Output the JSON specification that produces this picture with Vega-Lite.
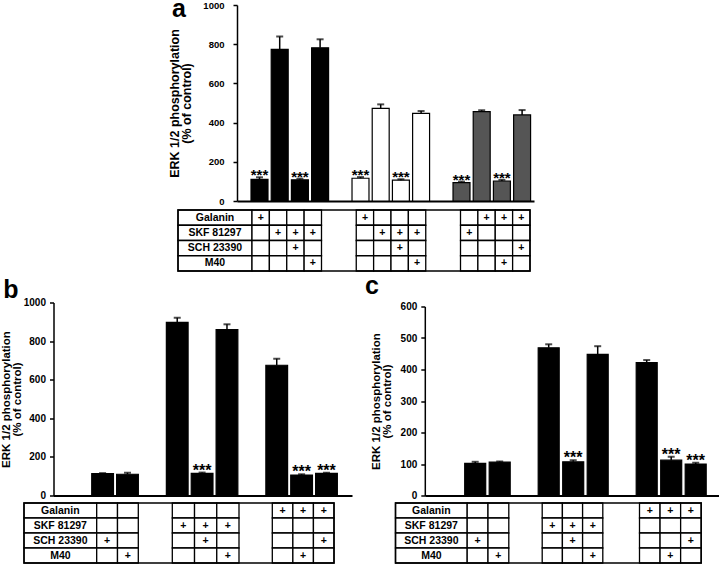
{
  "$schema": "https://vega.github.io/schema/vega-lite/v6.json",
  "padding": {"left": 0, "top": -3, "right": 0, "bottom": 0},
  "background": "white",
  "config": {
    "font": "Liberation Sans",
    "view": {"stroke": null},
    "axis": {"grid": false, "domainColor": "black", "tickColor": "black", "labelColor": "black", "titleColor": "black", "labelFont": "Liberation Sans", "titleFont": "Liberation Sans", "labelFontWeight": "bold", "titleFontWeight": "bold", "labelOverlap": false},
    "title": {"font": "Liberation Sans", "fontWeight": "bold", "color": "black"}
  },
  "datasets": {
    "barsA": [
      {"k": "1", "grp": "black", "val": 110, "hi": 121, "sig": "***"},
      {"k": "2", "grp": "black", "val": 774, "hi": 839, "sig": ""},
      {"k": "3", "grp": "black", "val": 108, "hi": 114, "sig": "***"},
      {"k": "4", "grp": "black", "val": 782, "hi": 825, "sig": ""},
      {"k": "5", "grp": "white", "val": 116, "hi": 122, "sig": "***"},
      {"k": "6", "grp": "white", "val": 473, "hi": 493, "sig": ""},
      {"k": "7", "grp": "white", "val": 106, "hi": 111, "sig": "***"},
      {"k": "8", "grp": "white", "val": 447, "hi": 459, "sig": ""},
      {"k": "9", "grp": "gray", "val": 94, "hi": 99, "sig": "***"},
      {"k": "10", "grp": "gray", "val": 456, "hi": 463, "sig": ""},
      {"k": "11", "grp": "gray", "val": 102, "hi": 108, "sig": "***"},
      {"k": "12", "grp": "gray", "val": 439, "hi": 464, "sig": ""}
    ],
    "barsB": [
      {"k": "1", "val": 113, "hi": 116, "sig": ""},
      {"k": "2", "val": 110, "hi": 118, "sig": ""},
      {"k": "3", "val": 897, "hi": 921, "sig": ""},
      {"k": "4", "val": 115, "hi": 119, "sig": "***"},
      {"k": "5", "val": 859, "hi": 887, "sig": ""},
      {"k": "6", "val": 675, "hi": 709, "sig": ""},
      {"k": "7", "val": 106, "hi": 110, "sig": "***"},
      {"k": "8", "val": 115, "hi": 118, "sig": "***"}
    ],
    "barsC": [
      {"k": "1", "val": 102, "hi": 107, "sig": ""},
      {"k": "2", "val": 106, "hi": 108, "sig": ""},
      {"k": "3", "val": 469, "hi": 480, "sig": ""},
      {"k": "4", "val": 107, "hi": 112, "sig": "***"},
      {"k": "5", "val": 448, "hi": 474, "sig": ""},
      {"k": "6", "val": 422, "hi": 430, "sig": ""},
      {"k": "7", "val": 112, "hi": 123, "sig": "***"},
      {"k": "8", "val": 100, "hi": 104, "sig": "***"}
    ],
    "tA": [
      {"c": "lab", "r": "Galanin", "t": "Galanin"},
      {"c": "lab", "r": "SKF 81297", "t": "SKF 81297"},
      {"c": "lab", "r": "SCH 23390", "t": "SCH 23390"},
      {"c": "lab", "r": "M40", "t": "M40"},
      {"c": "1", "r": "Galanin", "t": "+"}, {"c": "2", "r": "Galanin", "t": ""}, {"c": "3", "r": "Galanin", "t": ""}, {"c": "4", "r": "Galanin", "t": ""},
      {"c": "5", "r": "Galanin", "t": "+"}, {"c": "6", "r": "Galanin", "t": ""}, {"c": "7", "r": "Galanin", "t": ""}, {"c": "8", "r": "Galanin", "t": ""},
      {"c": "9", "r": "Galanin", "t": ""}, {"c": "10", "r": "Galanin", "t": "+"}, {"c": "11", "r": "Galanin", "t": "+"}, {"c": "12", "r": "Galanin", "t": "+"},
      {"c": "1", "r": "SKF 81297", "t": ""}, {"c": "2", "r": "SKF 81297", "t": "+"}, {"c": "3", "r": "SKF 81297", "t": "+"}, {"c": "4", "r": "SKF 81297", "t": "+"},
      {"c": "5", "r": "SKF 81297", "t": ""}, {"c": "6", "r": "SKF 81297", "t": "+"}, {"c": "7", "r": "SKF 81297", "t": "+"}, {"c": "8", "r": "SKF 81297", "t": "+"},
      {"c": "9", "r": "SKF 81297", "t": "+"}, {"c": "10", "r": "SKF 81297", "t": ""}, {"c": "11", "r": "SKF 81297", "t": ""}, {"c": "12", "r": "SKF 81297", "t": ""},
      {"c": "1", "r": "SCH 23390", "t": ""}, {"c": "2", "r": "SCH 23390", "t": ""}, {"c": "3", "r": "SCH 23390", "t": "+"}, {"c": "4", "r": "SCH 23390", "t": ""},
      {"c": "5", "r": "SCH 23390", "t": ""}, {"c": "6", "r": "SCH 23390", "t": ""}, {"c": "7", "r": "SCH 23390", "t": "+"}, {"c": "8", "r": "SCH 23390", "t": ""},
      {"c": "9", "r": "SCH 23390", "t": ""}, {"c": "10", "r": "SCH 23390", "t": ""}, {"c": "11", "r": "SCH 23390", "t": ""}, {"c": "12", "r": "SCH 23390", "t": "+"},
      {"c": "1", "r": "M40", "t": ""}, {"c": "2", "r": "M40", "t": ""}, {"c": "3", "r": "M40", "t": ""}, {"c": "4", "r": "M40", "t": "+"},
      {"c": "5", "r": "M40", "t": ""}, {"c": "6", "r": "M40", "t": ""}, {"c": "7", "r": "M40", "t": ""}, {"c": "8", "r": "M40", "t": "+"},
      {"c": "9", "r": "M40", "t": ""}, {"c": "10", "r": "M40", "t": ""}, {"c": "11", "r": "M40", "t": "+"}, {"c": "12", "r": "M40", "t": ""}
    ],
    "tB": [
      {"c": "lab", "g": 0, "r": "Galanin", "t": "Galanin"},
      {"c": "lab", "g": 0, "r": "SKF 81297", "t": "SKF 81297"},
      {"c": "lab", "g": 0, "r": "SCH 23390", "t": "SCH 23390"},
      {"c": "lab", "g": 0, "r": "M40", "t": "M40"},
      {"c": "1", "g": 1, "r": "Galanin", "t": ""}, {"c": "2", "g": 1, "r": "Galanin", "t": ""},
      {"c": "3", "g": 2, "r": "Galanin", "t": ""}, {"c": "4", "g": 2, "r": "Galanin", "t": ""}, {"c": "5", "g": 2, "r": "Galanin", "t": ""},
      {"c": "6", "g": 3, "r": "Galanin", "t": "+"}, {"c": "7", "g": 3, "r": "Galanin", "t": "+"}, {"c": "8", "g": 3, "r": "Galanin", "t": "+"},
      {"c": "1", "g": 1, "r": "SKF 81297", "t": ""}, {"c": "2", "g": 1, "r": "SKF 81297", "t": ""},
      {"c": "3", "g": 2, "r": "SKF 81297", "t": "+"}, {"c": "4", "g": 2, "r": "SKF 81297", "t": "+"}, {"c": "5", "g": 2, "r": "SKF 81297", "t": "+"},
      {"c": "6", "g": 3, "r": "SKF 81297", "t": ""}, {"c": "7", "g": 3, "r": "SKF 81297", "t": ""}, {"c": "8", "g": 3, "r": "SKF 81297", "t": ""},
      {"c": "1", "g": 1, "r": "SCH 23390", "t": "+"}, {"c": "2", "g": 1, "r": "SCH 23390", "t": ""},
      {"c": "3", "g": 2, "r": "SCH 23390", "t": ""}, {"c": "4", "g": 2, "r": "SCH 23390", "t": "+"}, {"c": "5", "g": 2, "r": "SCH 23390", "t": ""},
      {"c": "6", "g": 3, "r": "SCH 23390", "t": ""}, {"c": "7", "g": 3, "r": "SCH 23390", "t": ""}, {"c": "8", "g": 3, "r": "SCH 23390", "t": "+"},
      {"c": "1", "g": 1, "r": "M40", "t": ""}, {"c": "2", "g": 1, "r": "M40", "t": "+"},
      {"c": "3", "g": 2, "r": "M40", "t": ""}, {"c": "4", "g": 2, "r": "M40", "t": ""}, {"c": "5", "g": 2, "r": "M40", "t": "+"},
      {"c": "6", "g": 3, "r": "M40", "t": ""}, {"c": "7", "g": 3, "r": "M40", "t": "+"}, {"c": "8", "g": 3, "r": "M40", "t": ""}
    ],
    "frame": [{"f": "t"}]
  },
  "spacing": 1.5,
  "vconcat": [
    {
      "spacing": 3,
      "vconcat": [
        {
          "width": 510, "height": 196,
          "title": {"text": "a", "anchor": "start", "fontSize": 25, "dx": 148, "dy": 22, "offset": 0},
          "data": {"name": "barsA"},
          "encoding": {
            "x": {"field": "k", "type": "nominal", "scale": {"domain": ["1","2","3","4","g1","5","6","7","8","g2","9","10","11","12"], "range": [213, 510], "paddingInner": 0, "paddingOuter": 0.3515, "align": 0.8732}, "axis": {"labels": false, "ticks": false, "title": null, "domainWidth": 2}}
          },
          "layer": [
            {"mark": {"type": "bar", "width": {"band": 0.84}, "stroke": "black", "strokeWidth": 1.2},
             "encoding": {
               "y": {"field": "val", "type": "quantitative", "scale": {"domain": [0, 1000], "nice": false},
                     "axis": {"values": [0, 200, 400, 600, 800, 1000], "format": "d", "tickCount": 20, "labelOverlap": false, "offset": -213, "domainWidth": 1.5, "tickWidth": 1.5, "tickSize": 4, "labelFontSize": 9.5, "labelPadding": 9, "title": ["ERK 1/2 phosphorylation", "(% of control)"], "titleFontSize": 12.5, "titleLineHeight": 12, "titlePadding": 9}},
               "fill": {"field": "grp", "type": "nominal", "scale": {"domain": ["black", "white", "gray"], "range": ["#000000", "#ffffff", "#555555"]}, "legend": null}}},
            {"mark": {"type": "rule", "strokeWidth": 1.5, "color": "black"}, "encoding": {"y": {"field": "val", "type": "quantitative"}, "y2": {"field": "hi"}}},
            {"mark": {"type": "tick", "orient": "horizontal", "size": 7, "thickness": 2, "color": "black"}, "encoding": {"y": {"field": "hi", "type": "quantitative"}}},
            {"mark": {"type": "text", "fontSize": 15, "fontWeight": "bold", "baseline": "alphabetic", "dy": 3, "color": "black"}, "encoding": {"y": {"field": "hi", "type": "quantitative"}, "text": {"field": "sig"}}}
          ]
        },
        {
          "width": 510, "height": 61,
          "encoding": {"y": {"field": "r", "type": "nominal", "scale": {"domain": ["Galanin", "SKF 81297", "SCH 23390", "M40"], "paddingInner": 0, "paddingOuter": 0}, "axis": null}},
          "layer": [
            {"data": {"name": "tA"}, "transform": [{"filter": "datum.c == 'lab'"}],
             "encoding": {"x": {"field": "c", "type": "nominal", "scale": {"domain": ["lab"], "range": [154, 228], "paddingInner": 0, "paddingOuter": 0}, "axis": null}},
             "layer": [
               {"mark": {"type": "rect", "fill": "white", "stroke": "black", "strokeWidth": 1.3}},
               {"mark": {"type": "text", "fontSize": 10.5, "fontWeight": "bold", "color": "black"}, "encoding": {"text": {"field": "t"}}}
             ]},
            {"data": {"name": "tA"}, "transform": [{"filter": "datum.c != 'lab'"}],
             "encoding": {"x": {"field": "c", "type": "nominal", "scale": {"domain": ["1","2","3","4","ga","gb","5","6","7","8","gc","gd","9","10","11","12"], "range": [228, 506], "paddingInner": 0, "paddingOuter": 0}, "axis": null}},
             "layer": [
               {"mark": {"type": "rect", "fill": "white", "stroke": "black", "strokeWidth": 1.3}},
               {"mark": {"type": "text", "fontSize": 10.5, "fontWeight": "bold", "color": "black"}, "encoding": {"text": {"field": "t"}}}
             ]},
            {"data": {"name": "frame"}, "mark": {"type": "rect", "fillOpacity": 0, "stroke": "black", "strokeWidth": 1.5},
             "encoding": {"x": {"field": "f", "type": "nominal", "scale": {"domain": ["t"], "range": [154, 506], "paddingInner": 0, "paddingOuter": 0}, "axis": null}, "y": null}}
          ],
          "resolve": {"scale": {"x": "independent"}}
        }
      ]
    },
    {
      "spacing": 12.5,
      "hconcat": [
        {
          "spacing": 1.5,
          "vconcat": [
            {
              "width": 328, "height": 193,
              "title": {"text": "b", "anchor": "start", "fontSize": 25, "dx": 3, "dy": 5, "offset": 0},
              "data": {"name": "barsB"},
              "encoding": {
                "x": {"field": "k", "type": "nominal", "scale": {"domain": ["1","2","g1","3","4","5","g2","6","7","8"], "range": [29.5, 328], "paddingInner": 0, "paddingOuter": 1.067, "align": 0.737}, "axis": {"labels": false, "ticks": false, "title": null, "domainWidth": 2}}
              },
              "layer": [
                {"mark": {"type": "bar", "width": {"band": 0.874}, "fill": "black", "stroke": "black", "strokeWidth": 1.2},
                 "encoding": {
                   "y": {"field": "val", "type": "quantitative", "scale": {"domain": [0, 1000], "nice": false},
                         "axis": {"values": [0, 200, 400, 600, 800, 1000], "format": "d", "tickCount": 20, "labelOverlap": false, "offset": -29.5, "domainWidth": 1.5, "tickWidth": 1.5, "tickSize": 4, "labelFontSize": 10, "labelPadding": 4, "title": ["ERK 1/2 phosphorylation", "(% of control)"], "titleFontSize": 11.5, "titleLineHeight": 11, "titlePadding": 1}}}},
                {"mark": {"type": "rule", "strokeWidth": 1.5, "color": "black"}, "encoding": {"y": {"field": "val", "type": "quantitative"}, "y2": {"field": "hi"}}},
                {"mark": {"type": "tick", "orient": "horizontal", "size": 7, "thickness": 2, "color": "black"}, "encoding": {"y": {"field": "hi", "type": "quantitative"}}},
                {"mark": {"type": "text", "fontSize": 16, "fontWeight": "bold", "baseline": "alphabetic", "dy": 3, "color": "black"}, "encoding": {"y": {"field": "hi", "type": "quantitative"}, "text": {"field": "sig"}}}
              ]
            },
            {
              "width": 310, "height": 60,
              "data": {"name": "tB"},
              "encoding": {"y": {"field": "r", "type": "nominal", "scale": {"domain": ["Galanin", "SKF 81297", "SCH 23390", "M40"], "paddingInner": 0, "paddingOuter": 0}, "axis": null}},
              "layer": [
                {"transform": [{"filter": "datum.g == 0"}],
                 "encoding": {"x": {"field": "c", "type": "nominal", "scale": {"domain": ["lab"], "range": [0, 72.7], "paddingInner": 0, "paddingOuter": 0}, "axis": null}},
                 "layer": [
                   {"mark": {"type": "rect", "fill": "white", "stroke": "black", "strokeWidth": 1.3}},
                   {"mark": {"type": "text", "fontSize": 10.5, "fontWeight": "bold", "color": "black"}, "encoding": {"text": {"field": "t"}}}
                 ]},
                {"transform": [{"filter": "datum.g == 1"}],
                 "encoding": {"x": {"field": "c", "type": "nominal", "scale": {"domain": ["1","2"], "range": [72.7, 114.3], "paddingInner": 0, "paddingOuter": 0}, "axis": null}},
                 "layer": [
                   {"mark": {"type": "rect", "fill": "white", "stroke": "black", "strokeWidth": 1.3}},
                   {"mark": {"type": "text", "fontSize": 10.5, "fontWeight": "bold", "color": "black"}, "encoding": {"text": {"field": "t"}}}
                 ]},
                {"transform": [{"filter": "datum.g == 2"}],
                 "encoding": {"x": {"field": "c", "type": "nominal", "scale": {"domain": ["3","4","5"], "range": [148.3, 215], "paddingInner": 0, "paddingOuter": 0}, "axis": null}},
                 "layer": [
                   {"mark": {"type": "rect", "fill": "white", "stroke": "black", "strokeWidth": 1.3}},
                   {"mark": {"type": "text", "fontSize": 10.5, "fontWeight": "bold", "color": "black"}, "encoding": {"text": {"field": "t"}}}
                 ]},
                {"transform": [{"filter": "datum.g == 3"}],
                 "encoding": {"x": {"field": "c", "type": "nominal", "scale": {"domain": ["6","7","8"], "range": [248.3, 310], "paddingInner": 0, "paddingOuter": 0}, "axis": null}},
                 "layer": [
                   {"mark": {"type": "rect", "fill": "white", "stroke": "black", "strokeWidth": 1.3}},
                   {"mark": {"type": "text", "fontSize": 10.5, "fontWeight": "bold", "color": "black"}, "encoding": {"text": {"field": "t"}}}
                 ]},
                {"data": {"name": "frame"}, "mark": {"type": "rect", "fillOpacity": 0, "stroke": "black", "strokeWidth": 1.5},
                 "encoding": {"x": {"field": "f", "type": "nominal", "scale": {"domain": ["t"], "range": [0, 310], "paddingInner": 0, "paddingOuter": 0}, "axis": null}, "y": null}}
              ],
              "resolve": {"scale": {"x": "independent"}}
            }
          ]
        },
        {
          "spacing": 1.5,
          "vconcat": [
            {
              "width": 323, "height": 193,
              "title": {"text": "c", "anchor": "start", "fontSize": 25, "dx": -5, "dy": -2.5, "offset": 0},
              "data": {"name": "barsC"},
              "encoding": {
                "x": {"field": "k", "type": "nominal", "scale": {"domain": ["1","2","g1","3","4","5","g2","6","7","8"], "range": [29.3, 323], "paddingInner": 0, "paddingOuter": 0.9939, "align": 0.7834}, "axis": {"labels": false, "ticks": false, "title": null, "domainWidth": 2}}
              },
              "layer": [
                {"mark": {"type": "bar", "width": {"band": 0.857}, "fill": "black", "stroke": "black", "strokeWidth": 1.2},
                 "encoding": {
                   "y": {"field": "val", "type": "quantitative", "scale": {"domain": [0, 600], "nice": false, "range": [193, 4]},
                         "axis": {"values": [0, 100, 200, 300, 400, 500, 600], "format": "d", "tickCount": 20, "labelOverlap": false, "offset": -29.3, "domainWidth": 1.5, "tickWidth": 1.5, "tickSize": 4, "labelFontSize": 10, "labelPadding": 4, "title": ["ERK 1/2 phosphorylation", "(% of control)"], "titleFontSize": 11.5, "titleLineHeight": 11, "titlePadding": 8}}}},
                {"mark": {"type": "rule", "strokeWidth": 1.5, "color": "black"}, "encoding": {"y": {"field": "val", "type": "quantitative"}, "y2": {"field": "hi"}}},
                {"mark": {"type": "tick", "orient": "horizontal", "size": 7, "thickness": 2, "color": "black"}, "encoding": {"y": {"field": "hi", "type": "quantitative"}}},
                {"mark": {"type": "text", "fontSize": 16, "fontWeight": "bold", "baseline": "alphabetic", "dy": 3, "color": "black"}, "encoding": {"y": {"field": "hi", "type": "quantitative"}, "text": {"field": "sig"}}}
              ]
            },
            {
              "width": 306, "height": 60,
              "data": {"name": "tB"},
              "encoding": {"y": {"field": "r", "type": "nominal", "scale": {"domain": ["Galanin", "SKF 81297", "SCH 23390", "M40"], "paddingInner": 0, "paddingOuter": 0}, "axis": null}},
              "layer": [
                {"transform": [{"filter": "datum.g == 0"}],
                 "encoding": {"x": {"field": "c", "type": "nominal", "scale": {"domain": ["lab"], "range": [0, 71.7], "paddingInner": 0, "paddingOuter": 0}, "axis": null}},
                 "layer": [
                   {"mark": {"type": "rect", "fill": "white", "stroke": "black", "strokeWidth": 1.3}},
                   {"mark": {"type": "text", "fontSize": 10.5, "fontWeight": "bold", "color": "black"}, "encoding": {"text": {"field": "t"}}}
                 ]},
                {"transform": [{"filter": "datum.g == 1"}],
                 "encoding": {"x": {"field": "c", "type": "nominal", "scale": {"domain": ["1","2"], "range": [71.7, 113.3], "paddingInner": 0, "paddingOuter": 0}, "axis": null}},
                 "layer": [
                   {"mark": {"type": "rect", "fill": "white", "stroke": "black", "strokeWidth": 1.3}},
                   {"mark": {"type": "text", "fontSize": 10.5, "fontWeight": "bold", "color": "black"}, "encoding": {"text": {"field": "t"}}}
                 ]},
                {"transform": [{"filter": "datum.g == 2"}],
                 "encoding": {"x": {"field": "c", "type": "nominal", "scale": {"domain": ["3","4","5"], "range": [146.7, 207.3], "paddingInner": 0, "paddingOuter": 0}, "axis": null}},
                 "layer": [
                   {"mark": {"type": "rect", "fill": "white", "stroke": "black", "strokeWidth": 1.3}},
                   {"mark": {"type": "text", "fontSize": 10.5, "fontWeight": "bold", "color": "black"}, "encoding": {"text": {"field": "t"}}}
                 ]},
                {"transform": [{"filter": "datum.g == 3"}],
                 "encoding": {"x": {"field": "c", "type": "nominal", "scale": {"domain": ["6","7","8"], "range": [244, 305.7], "paddingInner": 0, "paddingOuter": 0}, "axis": null}},
                 "layer": [
                   {"mark": {"type": "rect", "fill": "white", "stroke": "black", "strokeWidth": 1.3}},
                   {"mark": {"type": "text", "fontSize": 10.5, "fontWeight": "bold", "color": "black"}, "encoding": {"text": {"field": "t"}}}
                 ]},
                {"data": {"name": "frame"}, "mark": {"type": "rect", "fillOpacity": 0, "stroke": "black", "strokeWidth": 1.5},
                 "encoding": {"x": {"field": "f", "type": "nominal", "scale": {"domain": ["t"], "range": [0, 305.7], "paddingInner": 0, "paddingOuter": 0}, "axis": null}, "y": null}}
              ],
              "resolve": {"scale": {"x": "independent"}}
            }
          ]
        }
      ]
    }
  ]
}
